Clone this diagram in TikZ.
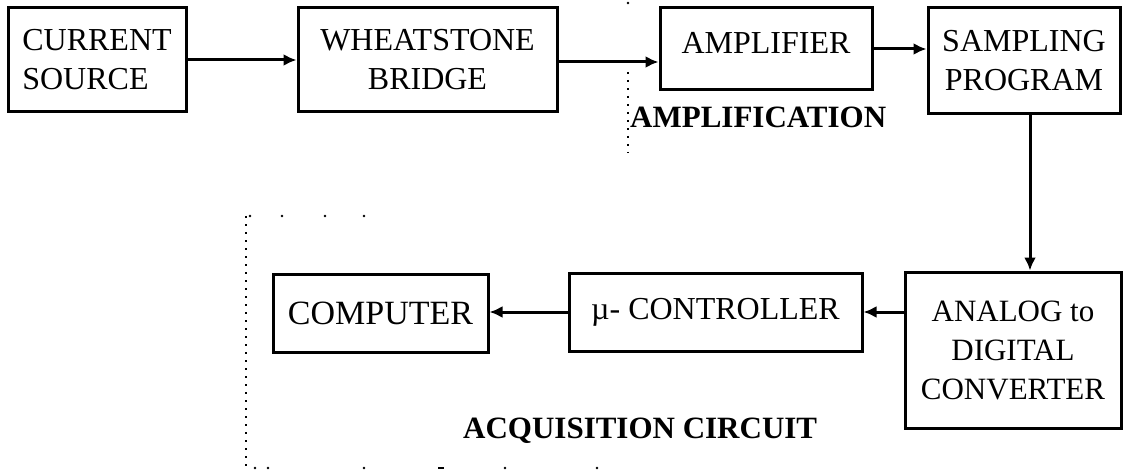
\documentclass[tikz,border=0pt]{standalone}
\usepackage{fontspec}
\setmainfont{Liberation Serif}
\usetikzlibrary{arrows.meta}
\begin{document}
\begin{tikzpicture}[x=1pt,y=-1pt,
  box/.style={draw, line width=3pt, inner sep=0pt, align=center, font=\fontsize{32}{39}\selectfont},
  txt/.style={inner sep=0pt, font=\fontsize{32}{39}\selectfont},
  lbl/.style={inner sep=0pt, font=\fontsize{31}{37}\selectfont\bfseries, anchor=base west},
  arr/.style={line width=3pt, -{Latex[length=13pt,width=12pt]}},
  sparse/.style={line width=2.2pt, dash pattern=on 2pt off 6pt},
  dot/.style={circle, fill, inner sep=0pt, minimum size=2.6pt}]
\useasboundingbox (0,0) rectangle (1128,476);
% top row
\node[box, minimum width=178pt, minimum height=104pt, align=left] (cs) at (97,60) {CURRENT\\SOURCE};
\node[box, minimum width=259pt, minimum height=104pt] (wb) at (427.5,60) {WHEATSTONE\\BRIDGE};
\node[box, minimum width=212pt, minimum height=82pt] (amp) at (766,49) {};
\node[txt, anchor=base] (ampt) at (766,54) {AMPLIFIER};
\node[box, minimum width=192pt, minimum height=106pt] (sp) at (1024,61) {SAMPLING\\PROGRAM};
% bottom row
\node[box, minimum width=216pt, minimum height=156pt, font=\fontsize{31}{39}\selectfont] (adc) at (1013,350) {ANALOG to\\DIGITAL\\CONVERTER};
\node[box, minimum width=293pt, minimum height=78pt] (uc) at (715.5,312) {µ- CONTROLLER};
\node[box, minimum width=215pt, minimum height=78pt, font=\fontsize{34}{40}\selectfont] (comp) at (380.5,313) {COMPUTER};
% connectors
\draw[arr] (cs.east) -- (wb.west);
\draw[arr] ([yshift=-2pt]wb.east) -- ([yshift=-2pt]wb.east -| amp.west);
\draw[arr] (amp.east) -- (amp.east -| sp.west);
\draw[arr] ([xshift=6pt]sp.south) -- ([xshift=6pt]sp.south |- adc.north);
\draw[arr] (adc.west |- uc.east) -- (uc.east);
\draw[arr] (uc.west) -- (uc.west -| comp.east);
% dotted marker of the amplification part
\node[dot] (d0) at (628,3) {};
\coordinate (d1) at (628,72);
\coordinate (d2) at (628,153);
\draw[sparse] (d1) -- (d2);
\node[lbl] (amplab) at (630,128) {AMPLIFICATION};
% dotted frame of the acquisition circuit
\coordinate (a0) at (246,216);
\coordinate (a2) at (246,468);
\draw[sparse] (a0) -- (a2);
\foreach \x in {250,282,325,364} \node[dot] at (\x,216) {};
\foreach \x in {255,268,364,505,597} \node[dot] at (\x,468) {};
\draw[line width=2.2pt] (438,468) -- (444,468);
\node[lbl] (acqlab) at (463,438) {ACQUISITION CIRCUIT};
\end{tikzpicture}
\end{document}
